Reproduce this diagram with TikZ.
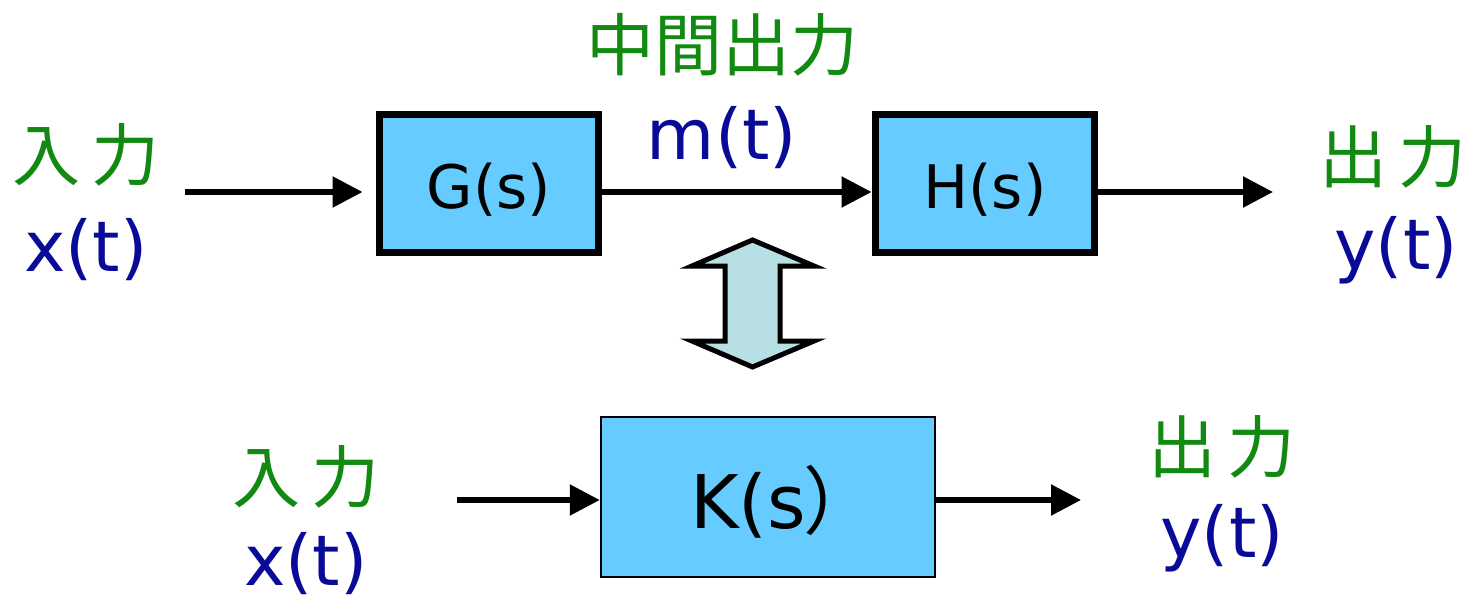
\documentclass[tikz,border=0pt]{standalone}
\usepackage{fontspec}
\setmainfont{DejaVu Sans}
\newfontfamily\cjk{Noto Sans CJK JP}
\usetikzlibrary{arrows.meta}
\definecolor{boxblue}{HTML}{66CCFF}
\definecolor{jgreen}{HTML}{128A12}
\definecolor{tblue}{HTML}{0A0A99}
\definecolor{dbl}{HTML}{B8DFE3}
\tikzset{
  blk/.style={draw=black,fill=boxblue,inner sep=0pt},
  arr/.style={line width=5.5pt,-{Triangle[length=30pt,width=30pt]}},
  jp/.style={text=jgreen,font=\cjk\fontsize{68}{68}\selectfont,inner sep=0pt},
  sig/.style={text=tblue,font=\fontsize{70}{70}\selectfont,inner sep=0pt},
  lab/.style={text=black,font=\fontsize{60}{60}\selectfont,inner sep=0pt}
}
\begin{document}
\begin{tikzpicture}[x=1pt,y=-1pt]
\useasboundingbox (0,0) rectangle (1470,604);
% top boxes
\node[blk,line width=7pt,minimum width=219pt,minimum height=138pt] (G) at (488.5,184) {};
\node[blk,line width=7pt,minimum width=219pt,minimum height=138pt] (H) at (984.5,184) {};
\node[lab] (Gt) at (489,190) {G(s)};
\node[lab] (Ht) at (985,190) {H(s)};
% bottom box
\node[blk,line width=2.5pt,minimum width=334pt,minimum height=160pt] (K) at (768,497) {};
\node[lab,font=\fontsize{74}{74}\selectfont] (Kt) at (784,502) {K(s\hspace{-2pt}{\cjk ）}};
% labels
\node[jp] (in1) at (86,155) {入\,力};
\node[sig] (x1) at (86,250) {x(t)};
\node[jp] (mid) at (722,45) {中間出力};
\node[sig] (m1) at (722,138) {m(t)};
\node[jp] (out1) at (1393,157) {出\,力};
\node[sig] (y1) at (1396,250) {y(t)};
\node[jp] (in2) at (306,477) {入\,力};
\node[sig] (x2) at (306,564) {x(t)};
\node[jp] (out2) at (1222,447) {出\,力};
\node[sig] (y2) at (1222,538) {y(t)};
% connectors
\coordinate (a1) at (185,192);
\coordinate (a2) at (1273,192);
\coordinate (b1) at (457,500);
\coordinate (b2) at (1081,500);
\draw[arr,shorten >=13pt] (a1) -- (a1 -| G.west);
\draw[arr] (a1 -| G.east) -- (a1 -| H.west);
\draw[arr] (a1 -| H.east) -- (a2);
\draw[arr] (b1) -- (b1 -| K.west);
\draw[arr] (b1 -| K.east) -- (b2);
% double arrow
\draw[line width=5pt,fill=dbl,line join=miter]
  (752.5,240) -- (814,266) -- (780,266) -- (780,341) -- (814,341)
  -- (752.5,367) -- (692,341) -- (725,341) -- (725,266) -- (692,266) -- cycle;
\end{tikzpicture}
\end{document}
